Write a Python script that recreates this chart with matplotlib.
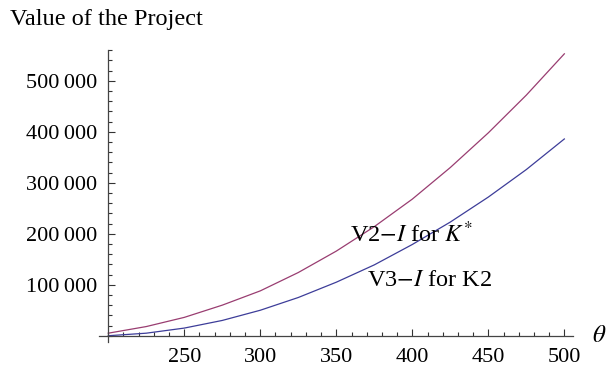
import matplotlib
matplotlib.use("Agg")
import matplotlib.pyplot as plt
from matplotlib.ticker import MultipleLocator, FixedLocator, FuncFormatter

plt.rcParams["font.family"] = ["Liberation Serif", "DejaVu Serif"]
plt.rcParams["mathtext.fontset"] = "stix"

# project value against theta for the two thresholds
theta = [200, 225, 250, 275, 300, 325, 350, 375, 400, 425, 450, 475, 500]
v2_minus_i = [5000, 18000, 36000, 60000, 88000, 124000, 166000, 214000,
              268000, 330000, 398000, 472000, 553000]
v3_minus_i = [0, 5000, 15000, 30000, 50000, 75000, 105000, 139000,
              179000, 223000, 272000, 326000, 386000]

x_major = [250, 300, 350, 400, 450, 500]
y_major = [100000, 200000, 300000, 400000, 500000]

fig = plt.figure(figsize=(6.07, 3.68), dpi=100)
ax = fig.add_axes([99 / 607, (368 - 342) / 368, (573 - 99) / 607, 292 / 368])

ax.plot(theta, v2_minus_i, color="#993d71", lw=0.9)
ax.plot(theta, v3_minus_i, color="#3d3d99", lw=0.9)

ax.set_xlim(193.9, 505.7)
ax.set_ylim(-12300, 560500)

# axes cross at (200, 0), ticks pointing inward
for s in ["top", "right"]:
    ax.spines[s].set_visible(False)
ax.spines["left"].set_position(("data", 200))
ax.spines["bottom"].set_position(("data", 0))
for s in ["left", "bottom"]:
    ax.spines[s].set_color("#444444")
    ax.spines[s].set_linewidth(0.9)

ax.xaxis.set_major_locator(FixedLocator(x_major))
ax.xaxis.set_minor_locator(MultipleLocator(10))
ax.yaxis.set_major_locator(FixedLocator(y_major))
ax.yaxis.set_minor_locator(MultipleLocator(20000))
ax.yaxis.set_major_formatter(FuncFormatter(
    lambda v, p: "{:,}".format(int(v)).replace(",", "\u2009")))

ax.tick_params(which="both", direction="in", color="#333333", width=0.8,
               labelsize=16)
ax.tick_params(axis="x", pad=9)
ax.tick_params(axis="y", pad=8)
ax.tick_params(which="major", length=5)
ax.tick_params(which="minor", length=3)

fig.text(10 / 607, 1 - 20 / 368, "Value of the Project", fontsize=17.5,
         va="center", ha="left")
fig.text(592 / 607, 1 - 336 / 368, r"$\theta$", fontsize=18,
         va="center", ha="left")

fig.text(350 / 607, 1 - 234 / 368, r"V2$-$$I$ for $K^{*}$",
         fontsize=17.5, va="center", ha="left")
fig.text(367 / 607, 1 - 280 / 368, r"V3$-$$I$ for K2",
         fontsize=17.5, va="center", ha="left")

fig.savefig("out.png", dpi=100)
